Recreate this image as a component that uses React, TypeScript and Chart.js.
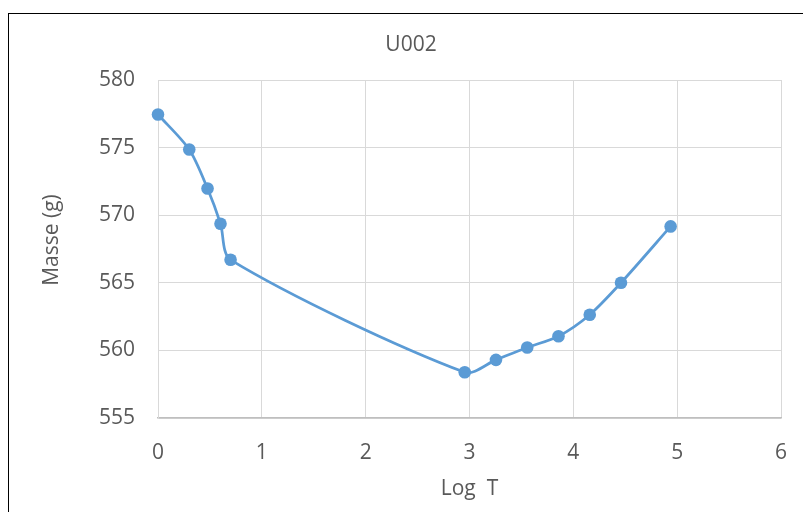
import React, { useEffect, useRef } from "react";
import { Chart, registerables } from "chart.js";

Chart.register(...registerables);

const chartTitle = "U002";
const xAxisTitle = "Log  T";
const yAxisTitle = "Masse (g)";
const logT = [0, 0.301, 0.477, 0.602, 0.699, 2.954, 3.255, 3.556, 3.857, 4.158, 4.459, 4.937];
const masse = [577.45, 574.86, 571.97, 569.37, 566.7, 558.38, 559.3, 560.22, 561.05, 562.64, 565.0, 569.17];
const xMin = 0, xMax = 6, xStep = 1;
const yMin = 555, yMax = 580, yStep = 5;

const FONT = "'Open Sans', 'DejaVu Sans', sans-serif";
const TEXT = "#595959";

export default function App() {
  const ref = useRef<HTMLCanvasElement | null>(null);
  useEffect(() => {
    if (!ref.current) return;
    const titlesPlugin = {
      id: "excelTitles",
      afterDraw(chart: any) {
        const { ctx } = chart;
        ctx.save();
        ctx.fillStyle = TEXT;
        ctx.font = `21px ${FONT}`;
        ctx.textAlign = "center";
        ctx.textBaseline = "middle";
        ctx.fillText(chartTitle, 411, 45);
        ctx.translate(52, 240);
        ctx.rotate(-Math.PI / 2);
        ctx.font = `21px ${FONT}`;
        ctx.fillText(yAxisTitle, 0, 0);
        ctx.restore();
      },
    };
    const chart = new Chart(ref.current, {
      type: "scatter",
      data: {
        datasets: [
          {
            label: chartTitle,
            data: logT.map((x, i) => ({ x, y: masse[i] })),
            showLine: true,
            borderColor: "#5B9BD5",
            backgroundColor: "#5B9BD5",
            borderWidth: 2.75,
            pointRadius: 6.3,
            pointHoverRadius: 6.3,
            pointBorderWidth: 0,
            tension: 0.28,
            clip: false,
          },
        ],
      },
      options: {
        responsive: false,
        animation: false,
        layout: { padding: { top: 80, right: 22, left: 0, bottom: 0 } },
        plugins: { legend: { display: false }, title: { display: false }, tooltip: { enabled: false } },
        scales: {
          x: {
            type: "linear",
            min: xMin,
            max: xMax,
            ticks: { stepSize: xStep, color: TEXT, font: { family: FONT, size: 21 }, padding: 22, maxRotation: 0 },
            grid: { color: "#D9D9D9", lineWidth: 1, drawTicks: false },
            border: { color: "#BFBFBF", width: 1.5 },
            title: { display: true, text: xAxisTitle, color: TEXT, font: { family: FONT, size: 21 }, padding: { top: 0, bottom: 10 } },
            afterFit(scale: any) {
              scale.height = 94;
              scale.paddingLeft = 0;
              scale.paddingRight = 0;
            },
          },
          y: {
            type: "linear",
            min: yMin,
            max: yMax,
            ticks: { stepSize: yStep, color: TEXT, font: { family: FONT, size: 21 }, padding: 23 },
            grid: { color: "#D9D9D9", lineWidth: 1, drawTicks: false },
            border: { color: "#D9D9D9", width: 1 },
            afterFit(scale: any) {
              scale.width = 158;
              scale.paddingTop = 0;
              scale.paddingBottom = 0;
            },
          },
        },
      },
      plugins: [titlesPlugin],
    });
    return () => chart.destroy();
  }, []);
  return (
    <div style={{ position: "fixed", left: 0, top: 0, width: 803, height: 512, overflow: "hidden", background: "#fff" }}>
      <div style={{ position: "absolute", left: 8, top: 13, width: 1000, height: 1000, borderTop: "1px solid #000", borderLeft: "1px solid #000" }} />
      <canvas ref={ref} width={803} height={512} style={{ position: "absolute", left: 0, top: 0 }} />
    </div>
  );
}
